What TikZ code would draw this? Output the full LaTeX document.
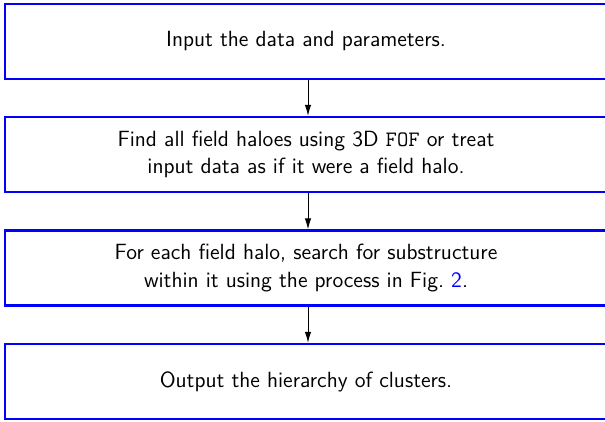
\documentclass[tikz,border=0pt]{standalone}
\usetikzlibrary{arrows.meta}
\begin{document}
\begin{tikzpicture}[x=0.5pt,y=-0.5pt,
  stepbox/.style={draw=blue,line width=1.1pt,rectangle,minimum width=301pt,minimum height=37.5pt,
    align=center,font=\sffamily\fontsize{11}{13.6}\selectfont,inner sep=0pt},
  flow/.style={-{Latex[length=5.5pt,width=3.2pt]},line width=0.5pt,black}]
\useasboundingbox (0,0) rectangle (605,422);
\clip (0,0) rectangle (605,422);
\node[stepbox] (a) at (306,41.5) {Input the data and parameters.};
\node[stepbox] (b) at (306,154.5) {Find all field haloes using 3D \texttt{FOF} or treat\\input data as if it were a field halo.};
\node[stepbox] (c) at (306,268) {For each field halo, search for substructure\\within it using the process in Fig.~\textcolor{blue}{2}.};
\node[stepbox] (d) at (306,381.5) {Output the hierarchy of clusters.};
\draw[flow] ([xshift=1pt]a.south) -- ([xshift=1pt]b.north);
\draw[flow] ([xshift=1pt]b.south) -- ([xshift=1pt]c.north);
\draw[flow] ([xshift=1pt]c.south) -- ([xshift=1pt]d.north);
\end{tikzpicture}
\end{document}
